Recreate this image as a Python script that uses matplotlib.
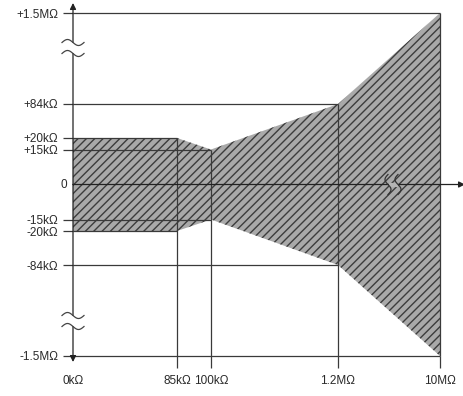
import numpy as np
import matplotlib
matplotlib.use("Agg")
import matplotlib.pyplot as plt
from matplotlib.scale import FuncScale
from matplotlib.transforms import IdentityTransform

# ---------------- data ----------------
x_values = [0, 85e3, 100e3, 1.2e6, 10e6]                  # ohms (input)
x_labels = ["0kΩ", "85kΩ", "100kΩ", "1.2MΩ", "10MΩ"]
upper_bound = [20e3, 20e3, 15e3, 84e3, 1.5e6]             # ohms
lower_bound = [-20e3, -20e3, -15e3, -84e3, -1.5e6]        # ohms
y_values = [1.5e6, 84e3, 20e3, 15e3, 0, -15e3, -20e3, -84e3, -1.5e6]
y_labels = ["+1.5MΩ", "+84kΩ", "+20kΩ", "+15kΩ", "0",
            "-15kΩ", "-20kΩ", "-84kΩ", "-1.5MΩ"]

# ---------------- schematic (broken) scale anchors ----------------
X_ANCHOR = [0, 85e3, 100e3, 1.2e6, 10e6]
X_POS = [0, 104, 138, 265, 367]
Y_ANCHOR = [-1.5e6, -84e3, -20e3, -15e3, 0, 15e3, 20e3, 84e3, 1.5e6]
Y_POS = [-171.5, -80.5, -46.5, -35, 0, 35, 46.5, 80.5, 171.5]


def fwd_x(v):
    return np.interp(v, X_ANCHOR, X_POS)


def inv_x(p):
    return np.interp(p, X_POS, X_ANCHOR)


def fwd_y(v):
    return np.interp(v, Y_ANCHOR, Y_POS)


def inv_y(p):
    return np.interp(p, Y_POS, Y_ANCHOR)


plt.rcParams["font.family"] = ["Liberation Sans", "DejaVu Sans"]
plt.rcParams["hatch.linewidth"] = 1.0

W, H = 463, 396
fig = plt.figure(figsize=(W / 100, H / 100), dpi=100)
fig.patch.set_facecolor("white")
ax = fig.add_axes([73 / W, 40 / H, 367 / W, 343 / H])
ax.set_xscale(FuncScale(ax, (fwd_x, inv_x)))
ax.set_yscale(FuncScale(ax, (fwd_y, inv_y)))
ax.set_xlim(x_values[0], x_values[-1])
ax.set_ylim(y_values[-1], y_values[0])
for s in ax.spines.values():
    s.set_visible(False)

line_c = "#3a3a3a"
lw = 0.9

# hatched envelope
ax.fill_between(x_values, lower_bound, upper_bound, facecolor="#a9a9a9",
                edgecolor="#3c3c3c", hatch="////", linewidth=0, zorder=1)

# horizontal reference lines: each level reaches the x where envelope hits it
for yv in y_values:
    if yv == 0:
        continue
    bounds = upper_bound if yv > 0 else lower_bound
    idx = [i for i, b in enumerate(bounds) if b == yv][-1]
    ax.plot([x_values[0], x_values[idx]], [yv, yv], color=line_c, lw=lw,
            zorder=3, clip_on=False, solid_capstyle="butt")

# vertical reference lines
for xv, ub in zip(x_values[1:], upper_bound[1:]):
    ax.plot([xv, xv], [y_values[-1], ub], color=line_c, lw=lw, zorder=3,
            clip_on=False, solid_capstyle="butt")

# ticks
ax.set_yticks([v for v in y_values if v != 0])
ax.set_yticklabels([l for v, l in zip(y_values, y_labels) if v != 0])
ax.set_xticks(x_values)
ax.set_xticklabels(x_labels)
ax.tick_params(axis="y", direction="out", length=7.2, width=lw, color=line_c,
               pad=3.6, labelsize=8.5, labelcolor="#2a2a2a")
ax.tick_params(axis="x", direction="out", length=8.6, width=lw, color=line_c,
               pad=5, labelsize=8.5, labelcolor="#2a2a2a")
ax.xaxis.get_major_ticks()[0].tick1line.set_visible(False)
ax.annotate("0", xy=(0, 0), xycoords=("axes fraction", "data"),
            xytext=(-4.3, 0), textcoords="offset points", ha="right",
            va="center", fontsize=8.5, color="#2a2a2a")

# axes with arrows
arrow_kw = dict(arrowstyle="-|>", color="#222222", lw=lw, shrinkA=0, shrinkB=0,
                mutation_scale=9)
ax.annotate("", xy=(0, 1 + 10 / 343), xycoords="axes fraction",
            xytext=(0, 0.5), textcoords="axes fraction", arrowprops=arrow_kw,
            zorder=5, annotation_clip=False)
ax.annotate("", xy=(0, -6 / 343), xycoords="axes fraction",
            xytext=(0, 0.5), textcoords="axes fraction", arrowprops=arrow_kw,
            zorder=5, annotation_clip=False)
ax.annotate("", xy=(1 + 25 / 367, 0), xycoords=("axes fraction", "data"),
            xytext=(0, 0), textcoords=("axes fraction", "data"),
            arrowprops=arrow_kw, zorder=5, annotation_clip=False)

# break symbols (drawn in pixel offsets)
t = np.linspace(0, 1, 60)
idt = IdentityTransform()


def ybreak(frac_y):
    cx, cy = ax.transAxes.transform((0, frac_y))
    ax.plot([cx, cx], [cy - 5, cy + 5], color="white", lw=3, transform=idt,
            zorder=6, clip_on=False, solid_capstyle="butt")
    for off in (5.5, -5.5):
        xs = cx - 11 + 22 * t
        ys = cy + off + 3 * np.sin(2 * np.pi * t)
        ax.plot(xs, ys, color="#444444", lw=0.9, transform=idt, zorder=7,
                clip_on=False)


def xbreak(frac_x):
    cx, cy = ax.transData.transform((inv_x(frac_x * 367), 0))
    cx = ax.transAxes.transform((frac_x, 0))[0]
    ax.plot([cx - 4.5, cx + 4.5], [cy, cy], color="#b4b4b4", lw=3,
            transform=idt, zorder=6, clip_on=False, solid_capstyle="butt")
    for off in (5, -5):
        ys = cy - 10 + 20 * t
        xs = cx + off + 3 * np.sin(2 * np.pi * t)
        ax.plot(xs, ys, color="#333333", lw=0.9, transform=idt, zorder=7,
                clip_on=False)


ybreak((356 - 48) / 343)
ybreak((356 - 321) / 343)
xbreak((393 - 73) / 367)

fig.savefig("out.png", dpi=100)
